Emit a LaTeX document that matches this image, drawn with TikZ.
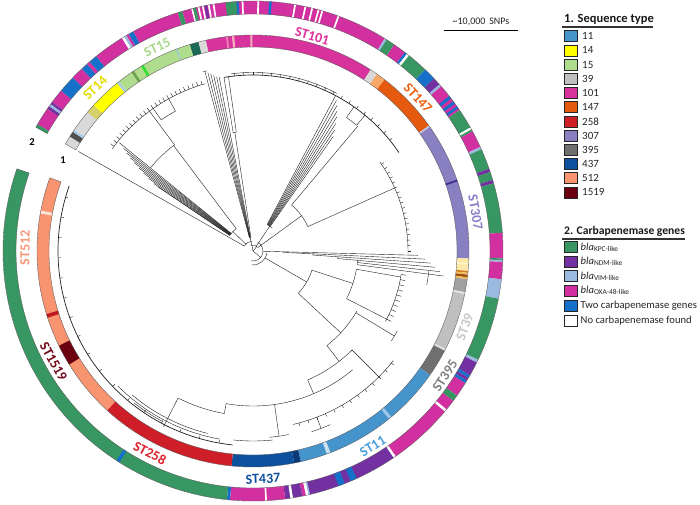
\documentclass[tikz,border=0pt]{standalone}
\usepackage{fontspec}
\setmainfont{Carlito}
\definecolor{cST11}{RGB}{69,148,204}
\definecolor{cST14}{RGB}{255,255,0}
\definecolor{cST15}{RGB}{176,220,142}
\definecolor{cST39}{RGB}{192,192,192}
\definecolor{cST101}{RGB}{216,50,156}
\definecolor{cST147}{RGB}{230,90,16}
\definecolor{cST258}{RGB}{206,30,40}
\definecolor{cST307}{RGB}{136,128,192}
\definecolor{cST395}{RGB}{112,112,112}
\definecolor{cST437}{RGB}{12,80,158}
\definecolor{cST512}{RGB}{248,148,112}
\definecolor{cST1519}{RGB}{106,0,16}
\definecolor{cKPC}{RGB}{56,150,98}
\definecolor{cNDM}{RGB}{114,48,160}
\definecolor{cVIM}{RGB}{154,186,224}
\definecolor{cOXA}{RGB}{210,48,160}
\definecolor{cTwo}{RGB}{20,112,200}
\definecolor{cLG}{RGB}{217,217,217}
\definecolor{cLG2}{RGB}{228,228,228}
\definecolor{cDG}{RGB}{80,80,80}
\definecolor{cLB}{RGB}{168,204,232}
\definecolor{cLB2}{RGB}{160,208,192}
\definecolor{cKh}{RGB}{214,208,104}
\definecolor{cGD}{RGB}{112,160,80}
\definecolor{cGB}{RGB}{48,224,48}
\definecolor{cTeal}{RGB}{26,106,85}
\definecolor{cPk1}{RGB}{240,128,184}
\definecolor{cPk2}{RGB}{248,176,192}
\definecolor{cLOr}{RGB}{249,168,106}
\definecolor{cLav}{RGB}{192,192,224}
\definecolor{cPurD}{RGB}{64,48,144}
\definecolor{cCream}{RGB}{253,233,168}
\definecolor{cCream2}{RGB}{255,244,208}
\definecolor{cOr1}{RGB}{208,128,32}
\definecolor{cOr2}{RGB}{240,192,96}
\definecolor{cOr3}{RGB}{160,80,16}
\definecolor{cGr2}{RGB}{160,160,160}
\definecolor{cST11L}{RGB}{160,200,232}
\definecolor{cST11L2}{RGB}{200,224,240}
\definecolor{cNavy}{RGB}{10,58,120}
\definecolor{cRedL}{RGB}{192,24,32}
\definecolor{cSalL}{RGB}{251,224,212}
\definecolor{lST14}{RGB}{228,220,0}
\definecolor{lST15}{RGB}{168,216,138}
\definecolor{lST101}{RGB}{224,48,156}
\definecolor{lST147}{RGB}{240,96,16}
\definecolor{lST307}{RGB}{136,128,200}
\definecolor{lST39}{RGB}{200,200,200}
\definecolor{lST395}{RGB}{128,128,128}
\definecolor{lST11}{RGB}{74,160,220}
\definecolor{lST437}{RGB}{16,80,160}
\definecolor{lST258}{RGB}{224,32,42}
\definecolor{lST1519}{RGB}{112,8,24}
\definecolor{lST512}{RGB}{249,152,120}
\newcommand{\phyb}[3]{\draw[phy] (#1:#2pt) -- (#1:#3pt);}
\newcommand{\phya}[3]{\draw[phy] (#1:#3pt) arc[start angle=#1, end angle=#2, radius=#3pt];}
\begin{document}
\begin{tikzpicture}[x=1pt,y=1pt,
  phy/.style={line width=0.4pt, draw=black!88},
  rim/.style={line width=0.35pt, draw=black!65},
  stl/.style={font=\fontsize{14}{16}\selectfont\bfseries, inner sep=0pt},
  sq/.style={draw=black!85, line width=0.6pt, minimum width=13.5pt, minimum height=11pt, inner sep=0pt},
  ltitle/.style={font=\fontsize{12.5}{14}\selectfont\bfseries, inner sep=0pt, anchor=west, text=black!90},
  ltitleb/.style={font=\fontsize{11.6}{13}\selectfont\bfseries, inner sep=0pt, anchor=west, text=black!90},
  lab1/.style={font=\fontsize{11}{12}\selectfont, inner sep=0pt, anchor=west, text=black!85},
  lab2/.style={font=\fontsize{10.6}{12}\selectfont, inner sep=0pt, anchor=west, text=black!85}]
\useasboundingbox (-253,-253) rectangle (447,251);
\fill[white] (-253,-253) rectangle (447,251);
% ---------- ring 1 : sequence type ----------
\foreach \a/\b/\c in {150.3/148/cLG, 148/146.5/cDG, 146.5/145.8/cLB, 145.8/140/cLG, 140/137.5/cKh, 137.5/129/cST14, 129/128.3/cLB, 128.3/107/cST15, 124.2/123.5/cGD, 121.2/120.5/cGB, 111/110.5/cLB2, 107/104.6/cTeal, 104.6/102.6/cLG, 102.6/57/cST101, 97.2/96.7/cPk1, 95.6/95/cPk2, 90.7/90.2/cPk2, 57/55/cLG, 55/52.5/cLOr, 52.5/35.5/cST147, 35.5/35/cLav, 35/-2/cST307, 19.3/18.8/cPurD, -2/-5.3/cCream, -3.2/-3.6/cCream2, -5.3/-5.8/cOr1, -5.8/-6.3/cOr2, -6.3/-7/cOr3, -7/-7.5/cOr2, -7.5/-11/cGr2, -11/-11.5/cLG2, -11.5/-27/cST39, -27/-27.5/cLG2, -27.5/-35/cST395, -35/-77.2/cST11, -50.2/-51/cST11L, -69/-70/cST11L2, -77.2/-79/cNavy, -79/-95.7/cST437, -95.7/-132.5/cST258, -132.5/-199.8/cST512, -148.3/-154/cST1519, -162/-163/cRedL, -190/-190.8/cSalL}
{\fill[fill=\c] (\a:204pt) arc[start angle=\a, end angle=\b, radius=204pt] -- (\b:216pt) arc[start angle=\b, end angle=\a, radius=216pt] -- cycle;}
% ---------- ring 2 : carbapenemase ----------
\foreach \a/\b/\c in {150.3/149.5/cKPC, 149.5/145.3/cOXA, 145.3/144.6/cNDM, 144.6/144/cVIM, 144/143.4/cNDM, 143.4/140.1/cOXA, 140.1/136.1/cTwo, 136.1/133.2/cOXA, 133.2/131.6/cTwo, 131.6/130.8/cOXA, 130.8/128.8/cTwo, 128.8/121.6/cOXA, 121.6/121/white, 121/120.4/cVIM, 120.4/119.8/cOXA, 119.8/118.6/cTwo, 118.6/107.5/cOXA, 107.5/106.4/cKPC, 106.4/58.2/cOXA, 104.3/103.9/white, 103.9/103.2/cKPC, 102.8/102.4/white, 101.8/101.4/white, 101.2/100.6/cNDM, 100.4/100/white, 99.3/98.9/white, 96.3/93.8/cKPC, 93.8/93.3/cTwo, 92.6/92.2/white, 89/88.6/white, 86.3/85.7/cTwo, 80.5/80.1/white, 78.1/77.7/white, 76.5/76.1/white, 75/74.6/white, 74.1/73.7/white, 70.2/69.8/white, 58.2/57.7/cVIM, 57.7/55.6/cKPC, 55.6/52.6/cOXA, 52.6/52/cTwo, 52/51.4/white, 51.4/46.5/cKPC, 46.5/43.6/cTwo, 43.6/41.8/cNDM, 41.8/41.2/cVIM, 41.2/34.3/cOXA, 38.3/37.6/cTwo, 36.8/36.1/cTwo, 35.4/34.8/cTwo, 34.3/29.6/cKPC, 29.6/29.1/white, 29.1/28.6/cKPC, 28.6/24.6/cOXA, 24.6/24/cVIM, 24/19.2/cKPC, 19.2/18.4/cNDM, 18.4/16.5/cKPC, 16.5/15.7/cNDM, 15.7/4.2/cKPC, 4.2/-1.7/cOXA, -1.7/-2.1/cKPC, -2.1/-2.5/cVIM, -2.5/-6.5/cOXA, -6.5/-11/cVIM, -11/-25.8/cKPC, -25.8/-26.5/cVIM, -26.5/-29.8/cNDM, -29.8/-30.5/cTwo, -30.5/-31.2/cNDM, -31.2/-31.9/cTwo, -31.9/-35.3/cOXA, -35.3/-36.8/cKPC, -36.8/-55.2/cOXA, -39.3/-39.9/white, -55.2/-55.8/white, -55.8/-77/cNDM, -65.5/-67/cTwo, -68.5/-70/cTwo, -76.8/-77.2/cVIM, -77.2/-77.8/white, -77.8/-78.6/cOXA, -78.6/-82.6/cNDM, -80.8/-81.4/white, -82.6/-95.3/cOXA, -86.8/-87.2/white, -95.3/-96/cTwo, -96/-199.2/cKPC, -122.3/-123.1/cTwo}
{\fill[fill=\c] (\a:237pt) arc[start angle=\a, end angle=\b, radius=237pt] -- (\b:250pt) arc[start angle=\b, end angle=\a, radius=250pt] -- cycle;}
% rims
\draw[rim] (150.3:204pt) arc[start angle=150.3, end angle=-199.8, radius=204pt] -- (-199.8:216pt) arc[start angle=-199.8, end angle=150.3, radius=216pt] -- cycle;
\draw[rim] (150.3:237pt) arc[start angle=150.3, end angle=-199.2, radius=237pt] -- (-199.2:250pt) arc[start angle=-199.2, end angle=150.3, radius=250pt] -- cycle;
% ---------- tree ----------
% hub
\phya{150}{95}{10}
\phya{62}{-100}{10}
\phya{110}{40}{6}
\phyb{100}{0}{6}
\phyb{50}{0}{6}
\phyb{-40}{0}{10}
% group A (ST39 outgroup, ST14, ST15)
\phyb{150.3}{10}{201}
\phyb{136}{10}{28}
\phya{146}{127}{28}
\foreach \a/\r in {141/172,141.6/165,142.2/160,142.8/154,143.4/148,144/141,144.6/134,145.2/127,145.8/120,146/114}{\phyb{\a}{28}{\r}}
\phyb{127}{28}{132}
\phya{141}{126.5}{132}
\phyb{126.5}{132}{174}
\phya{144}{106}{174}
\foreach \a in {143,141.5,...,107}{\phyb{\a}{174}{178}}
\phya{125}{119}{160}
\phyb{125}{160}{174}
\phyb{119}{160}{174}
% group B (ST101)
\phya{106}{98}{14}
\phyb{102}{6}{14}
\foreach \a/\r in {105/186,104.2/184,103.4/182,102.6/180,101.8/178,101/177}{\phyb{\a}{14}{\r}}
\phya{105.6}{104.4}{186}
\phyb{98.7}{14}{120}
\phya{99.5}{98}{120}
\phyb{99.5}{120}{176}
\phyb{98}{120}{176}
\draw[phy, line width=0.7pt] (99.5:176pt) arc[start angle=99.5, end angle=34, radius=176pt];
\phya{97}{62}{178.5}
\foreach \a in {96,93,...,39}{\phyb{\a}{176}{179}}
\phyb{56}{6}{30}
\phya{62}{50}{30}
\foreach \a/\r in {62/176,61/172,60/168,59/163,58/158,57/152,56/146,55/140}{\phyb{\a}{30}{\r}}
\phya{55}{50.5}{163}
\phyb{55}{163}{176}
\phyb{50.5}{163}{176}
% group C (ST147, ST307)
\phyb{36}{6}{60}
\phya{50}{24}{60}
\phyb{50}{60}{163}
\phyb{24}{60}{155}
\phya{35}{-1}{155}
\foreach \a in {34,32,...,0}{\phyb{\a}{155}{158}}
\phyb{-1.5}{10}{165}
\phyb{-2.7}{30}{172}
\phyb{-3.9}{60}{178}
\phyb{-5.1}{85}{183}
\phyb{-6.3}{105}{188}
\phyb{-7.5}{105}{192}
\phya{-1.5}{-2.7}{30}
\phya{-2.7}{-3.9}{60}
\phya{-3.9}{-5.1}{85}
\phya{-5.1}{-7.5}{105}
\phya{-6.5}{-11}{177}
% group D (ST39, ST395)
\phya{-8}{-95}{14}
\phyb{-30}{14}{62}
\phya{-18}{-43}{62}
\phyb{-18}{62}{105}
\phya{-10}{-27}{105}
\phyb{-10}{105}{150}
\phyb{-27}{105}{150}
\phya{-9}{-28}{150}
\foreach \a in {-9,-11,...,-27}{\phyb{\a}{150}{155}}
\phyb{-43}{62}{120}
\phya{-30}{-52}{120}
\phyb{-31}{120}{165}
\phya{-29}{-33}{165}
% group E (CG258: ST11, ST437, ST258, ST512, ST1519)
\phyb{-52}{120}{140}
\phya{-45}{-67}{140}
\phyb{-45}{140}{178}
\phya{-38}{-77}{178}
\foreach \a in {-39,-42,...,-76}{\phyb{\a}{178}{181}}
\phya{-66}{-72}{190}
\phyb{-69}{178}{190}
\phyb{-67}{140}{155}
\phya{-50}{-100}{155}
\phyb{-100}{155}{165}
\phya{-100}{-117}{165}
\phyb{-117}{165}{197}
\phyb{-82}{155}{187}
\phya{-79}{-85}{187}
\phya{-84}{-96}{190}
\draw[phy, line width=0.7pt] (-96:195pt) arc[start angle=-96, end angle=-199.5, radius=195pt];
\phya{-100}{-135}{191}
\phya{-104}{-130}{188}
\phya{-118}{-128}{193}
\foreach \a in {-100,-106,...,-196}{\phyb{\a}{192}{195}}
% ---------- ST labels ----------
\node[stl, text=lST14, rotate=44] (n14) at (134.1:227pt) {ST14};
\node[stl, text=lST15, rotate=25.2] (n15) at (115.2:225pt) {ST15};
\node[stl, text=lST101, rotate=-15.4] (n101) at (74.6:223pt) {ST101};
\node[stl, text=lST147, rotate=-47.2] (n147) at (42.8:225pt) {ST147};
\node[stl, text=lST307, rotate=-80.1] (n307) at (9.9:226pt) {ST307};
\node[stl, text=lST39, rotate=70.3] (n39) at (-19.7:225pt) {ST39};
\node[stl, text=lST395, rotate=57] (n395) at (-33:229pt) {ST395};
\node[stl, text=lST11, rotate=31.5] (n11) at (-58.5:229pt) {ST11};
\node[stl, text=lST437, rotate=2.5] (n437) at (-87.5:228pt) {ST437};
\node[stl, text=lST258, rotate=-27] (n258) at (-117:227pt) {ST258};
\node[stl, text=lST1519, rotate=-61] (n1519) at (-151:228pt) {ST1519};
\node[stl, text=lST512, rotate=89.2] (n512) at (179.2:228pt) {ST512};
\node[font=\fontsize{10.5}{12}\selectfont\bfseries, inner sep=0pt] (r1) at (-190,91) {1};
\node[font=\fontsize{10.5}{12}\selectfont\bfseries, inner sep=0pt] (r2) at (-221,109) {2};
% ---------- scale bar ----------
\node[font=\fontsize{10}{12}\selectfont, inner sep=0pt, text=black!85] (sc) at (228,229) {\textasciitilde 10,000\, SNPs};
\draw[line width=1pt] (191,221) -- (265,221);
% ---------- legend 1 ----------
\node[ltitle] (t1) at (311,232) {1. Sequence type};
\draw[line width=1.1pt, black!80] (309,224) -- (400,224);
\foreach \i/\c/\t in {0/cST11/11,1/cST14/14,2/cST15/15,3/cST39/39,4/cST101/101,5/cST147/147,6/cST258/258,7/cST307/307,8/cST395/395,9/cST437/437,10/cST512/512,11/cST1519/1519}
{\node[sq, fill=\c] (s\i) at (318,{214.8-14.2*\i}) {};
 \node[lab1] (l\i) at (329,{214.8-14.2*\i}) {\t};}
% ---------- legend 2 ----------
\node[ltitleb] (t2) at (311,19.3) {2. Carbapenemase genes};
\draw[line width=1.1pt, black!80] (309,12) -- (432,12);
\node[sq, fill=cKPC] (g0) at (318,3.8) {};
\node[lab2] (m0) at (327.5,3.8) {\textit{bla}\textsubscript{KPC-like}};
\node[sq, fill=cNDM] (g1) at (318,-10.5) {};
\node[lab2] (m1) at (327.5,-10.5) {\textit{bla}\textsubscript{NDM-like}};
\node[sq, fill=cVIM] (g2) at (318,-25.2) {};
\node[lab2] (m2) at (327.5,-25.2) {\textit{bla}\textsubscript{VIM-like}};
\node[sq, fill=cOXA] (g3) at (318,-39.5) {};
\node[lab2] (m3) at (327.5,-39.5) {\textit{bla}\textsubscript{OXA-48-like}};
\node[sq, fill=cTwo] (g4) at (318,-54.5) {};
\node[lab2] (m4) at (327.5,-54.5) {Two carbapenemase genes};
\node[sq, fill=white] (g5) at (318,-69.5) {};
\node[lab2] (m5) at (327.5,-69.5) {No carbapenemase found};
\end{tikzpicture}
\end{document}
